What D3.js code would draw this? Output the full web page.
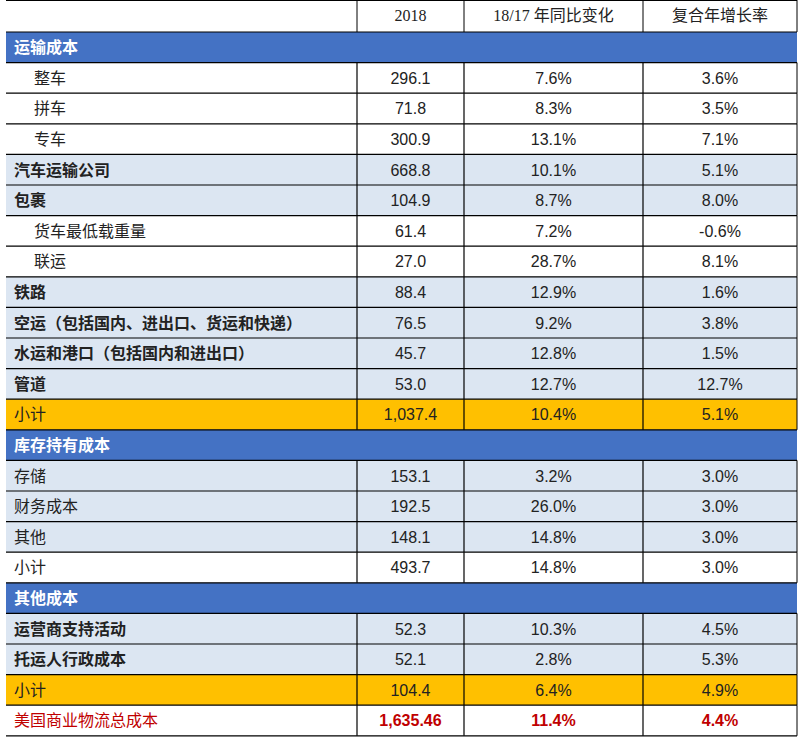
<!DOCTYPE html>
<html><head><meta charset="utf-8">
<script src="https://cdn.jsdelivr.net/npm/d3@7"></script>
<style>body{margin:0;background:#fff}</style>
</head><body>
<svg id="chart" width="800" height="738"></svg>
<script>
// table data
const headers = ["2018", "18/17 年同比变化", "复合年增长率"];
const labels = ["运输成本","整车","拼车","专车","汽车运输公司","包裹","货车最低载重量","联运","铁路",
  "空运（包括国内、进出口、货运和快递）","水运和港口（包括国内和进出口）","管道","小计",
  "库存持有成本","存储","财务成本","其他","小计",
  "其他成本","运营商支持活动","托运人行政成本","小计","美国商业物流总成本"];
const kinds = ["section","indent","indent","indent","bold","bold","indent","indent","bold",
  "bold","bold","bold","sub",
  "section","plain","plain","plain","white",
  "section","bold","bold","sub","total"];
const values2018 = ["","296.1","71.8","300.9","668.8","104.9","61.4","27.0","88.4","76.5","45.7","53.0","1,037.4",
  "","153.1","192.5","148.1","493.7","","52.3","52.1","104.4","1,635.46"];
const yoy = ["","7.6%","8.3%","13.1%","10.1%","8.7%","7.2%","28.7%","12.9%","9.2%","12.8%","12.7%","10.4%",
  "","3.2%","26.0%","14.8%","14.8%","","10.3%","2.8%","6.4%","11.4%"];
const cagr = ["","3.6%","3.5%","7.1%","5.1%","8.0%","-0.6%","8.1%","1.6%","3.8%","1.5%","12.7%","5.1%",
  "","3.0%","3.0%","3.0%","3.0%","","4.5%","5.3%","4.9%","4.4%"];

const svg = d3.select("#chart");
const cols = [6, 357, 464, 643, 797];
const headH = 32, rowH = 30.6;
const y = i => headH + i * rowH;
const fills = {section:"#4472c4", indent:"#ffffff", bold:"#dce6f2", plain:"#dce6f2", white:"#ffffff", sub:"#ffc000", total:"#ffffff"};
const sans = "Arial, 'Liberation Sans', 'Noto Sans CJK SC', sans-serif";

// header
svg.append("line").attr("x1",cols[0]).attr("x2",cols[4]).attr("y1",0.5).attr("y2",0.5).attr("stroke","#000");
headers.forEach((h,j)=>{
  svg.append("text").attr("x",(cols[j+1]+cols[j+2])/2).attr("y",headH/2+5)
    .attr("text-anchor","middle").attr("font-family","'Liberation Serif','Noto Sans CJK SC',serif")
    .attr("font-size",16).attr("fill","#222").text(h);
});

const rows = svg.selectAll("g.row").data(labels).join("g").attr("class","row")
  .attr("transform",(d,i)=>`translate(0,${y(i)})`);
rows.append("rect").attr("x",cols[0]).attr("width",cols[4]-cols[0]).attr("height",rowH)
  .attr("fill",(d,i)=>fills[kinds[i]]);
rows.append("text").attr("x",(d,i)=>kinds[i]==="indent"?34:14).attr("y",rowH/2+6)
  .attr("font-family",sans).attr("font-size",16)
  .attr("font-weight",(d,i)=>["section","bold"].includes(kinds[i])?"bold":"normal")
  .attr("fill",(d,i)=>kinds[i]==="section"?"#fff":kinds[i]==="total"?"#c00000":"#222")
  .text(d=>d);
[values2018, yoy, cagr].forEach((arr,j)=>{
  rows.append("text").attr("x",(cols[j+1]+cols[j+2])/2).attr("y",rowH/2+6)
    .attr("text-anchor","middle").attr("font-family",sans).attr("font-size",16)
    .attr("font-weight",(d,i)=>kinds[i]==="total"?"bold":"normal")
    .attr("fill",(d,i)=>kinds[i]==="total"?"#c00000":"#222")
    .text((d,i)=>arr[i]);
});

// horizontal rules
d3.range(labels.length+1).forEach(i=>{
  svg.append("line").attr("x1",cols[0]).attr("x2",cols[4]).attr("y1",y(i)).attr("y2",y(i))
    .attr("stroke","#000").attr("stroke-width",1.2);
});
// vertical rules (skip section rows)
svg.append("g").selectAll("line").data([1,2,3,4]).join("line")
  .attr("x1",c=>cols[c]).attr("x2",c=>cols[c]).attr("y1",0).attr("y2",headH).attr("stroke","#000");
labels.forEach((d,i)=>{
  if (kinds[i]==="section") return;
  [1,2,3,4].forEach(c=>{
    svg.append("line").attr("x1",cols[c]).attr("x2",cols[c]).attr("y1",y(i)).attr("y2",y(i+1))
      .attr("stroke","#000").attr("stroke-width",c===4?1:1.2);
  });
});
</script>
</body></html>
